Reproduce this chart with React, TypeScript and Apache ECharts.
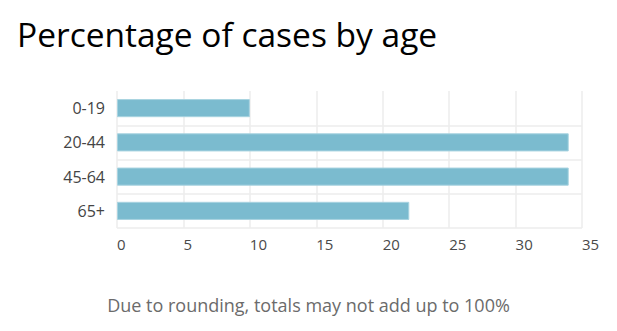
import React, { useEffect, useRef } from "react";
import * as echarts from "echarts";

const categories = ["0-19", "20-44", "45-64", "65+"];
const values = [10.0, 34.0, 34.0, 22.0];
const xTicks = { min: 0, max: 35, interval: 5 };
const titleText = "Percentage of cases by age";
const footerText = "Due to rounding, totals may not add up to 100%";

export default function App() {
  const ref = useRef<HTMLDivElement>(null);
  useEffect(() => {
    if (!ref.current) return;
    const chart = echarts.init(ref.current, null, { renderer: "svg" });
    const font = "'Open Sans', 'Noto Sans', sans-serif";
    chart.setOption({
      animation: false,
      textStyle: { fontFamily: font },
      title: [
        {
          text: titleText,
          left: 12,
          top: 12,
          textStyle: { fontFamily: font, fontSize: 33.5, fontWeight: "normal", color: "#000" },
        },
        {
          text: footerText,
          left: "center",
          top: 291,
          textStyle: { fontFamily: font, fontSize: 18, fontWeight: "normal", color: "#6b6b6b" },
        },
      ],
      grid: { left: 117, right: 35, top: 91, bottom: 103, containLabel: false },
      xAxis: {
        type: "value",
        min: xTicks.min,
        max: xTicks.max,
        interval: xTicks.interval,
        axisLine: { show: false },
        axisTick: { show: false },
        splitLine: { show: true, lineStyle: { color: "#ececec", width: 1.5 } },
        axisLabel: { align: "left", margin: 8, fontSize: 15, color: "#4a4a4a", fontFamily: font },
      },
      yAxis: {
        type: "category",
        data: categories,
        inverse: true,
        axisLine: { show: false },
        axisTick: { show: false },
        splitLine: { show: true, showMinLine: false, lineStyle: { color: "#ececec", width: 1.5 } },
        axisLabel: { margin: 12, fontSize: 16, color: "#444", fontFamily: font },
      },
      series: [
        {
          type: "bar",
          data: values,
          barCategoryGap: "47%",
          itemStyle: { color: "#7bbbcf", borderColor: "#a8d3e0", borderWidth: 1 },
        },
      ],
    });
    return () => chart.dispose();
  }, []);
  return <div ref={ref} style={{ width: 617, height: 331, position: "absolute", left: 0, top: 0 }} />;
}
